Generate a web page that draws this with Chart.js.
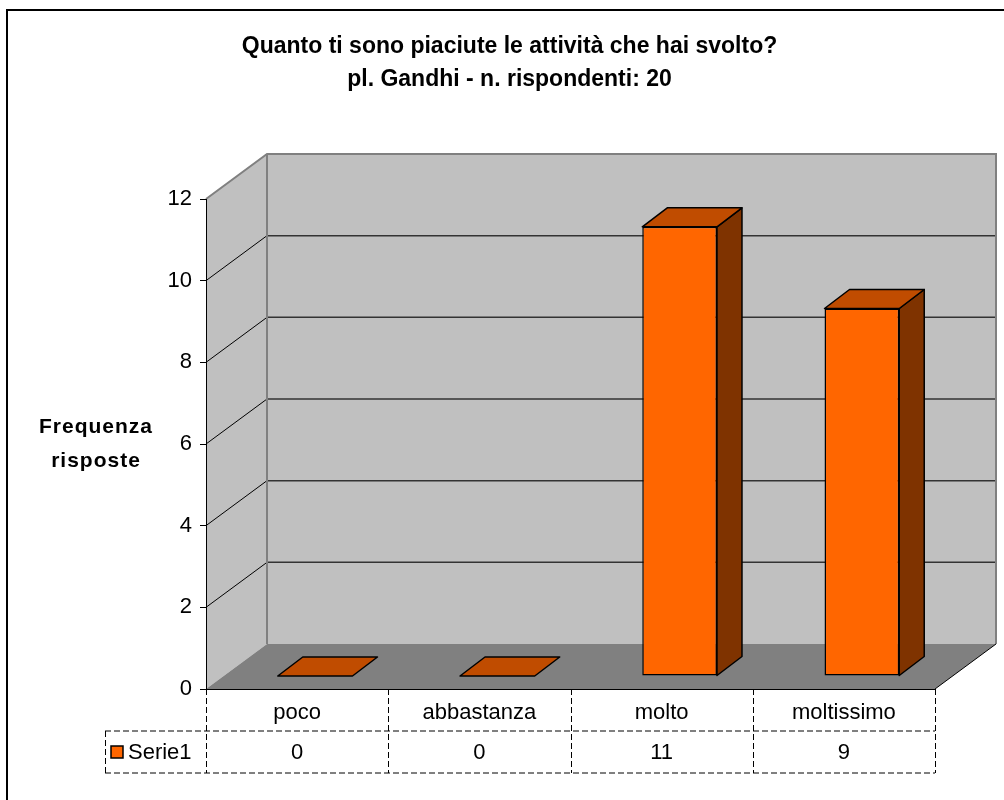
<!DOCTYPE html>
<html>
<head>
<meta charset="utf-8">
<script src="https://cdn.jsdelivr.net/npm/chart.js@4.4.1/dist/chart.umd.min.js"></script>
<style>
  html, body { margin: 0; padding: 0; background: #fff; }
  #wrap { width: 1004px; height: 800px; }
</style>
</head>
<body>
<div id="wrap"><canvas id="chart" width="1004" height="800"></canvas></div>
<script>
// dati del grafico
const titleLines = ["Quanto ti sono piaciute le attività che hai svolto?", "pl. Gandhi - n. rispondenti: 20"];
const yTitleLines = ["Frequenza", "risposte"];
const categories = ["poco", "abbastanza", "molto", "moltissimo"];
const serieName = "Serie1";
const serieValues = [0, 0, 11, 9];
const yMin = 0;
const yMax = 12;
const yStep = 2;

const FONT = "'Liberation Sans', Arial, sans-serif";
const WALL = { dx: 61, dy: -45 };      // profondita' pareti
const SHIFT = { dx: 18, dy: -13 };     // piano delle barre
const DEPTH = { dx: 25, dy: -19 };     // profondita' barre
const ROW_H = 42;
const KEY_W = 101;

Chart.defaults.font.family = FONT;
Chart.defaults.color = "#000";

const poly = (ctx, pts, fill, stroke, lw) => {
    ctx.beginPath();
    pts.forEach((p, i) => i ? ctx.lineTo(p[0], p[1]) : ctx.moveTo(p[0], p[1]));
    ctx.closePath();
    if (fill) { ctx.fillStyle = fill; ctx.fill(); }
    if (stroke) { ctx.strokeStyle = stroke; ctx.lineWidth = lw || 1; ctx.stroke(); }
};

const line = (ctx, x1, y1, x2, y2, color, lw) => {
    ctx.beginPath();
    ctx.moveTo(x1, y1);
    ctx.lineTo(x2, y2);
    ctx.strokeStyle = color;
    ctx.lineWidth = lw;
    ctx.stroke();
};

const depthPlugin = {
    id: "depth3d",
    beforeDraw(chart) {
        const { ctx, chartArea: a, scales: { y } } = chart;
        const top = y.getPixelForValue(yMax), bot = y.getPixelForValue(yMin);
        ctx.save();
        // cornice
        ctx.strokeStyle = "#000";
        ctx.lineWidth = 2;
        ctx.strokeRect(7, 10, 1200, 1000);
        // parete laterale
        poly(ctx, [[a.left, top], [a.left + WALL.dx, top + WALL.dy], [a.left + WALL.dx, bot + WALL.dy], [a.left, bot]], "#C0C0C0");
        // parete di fondo
        poly(ctx, [[a.left + WALL.dx, top + WALL.dy], [a.right + WALL.dx, top + WALL.dy], [a.right + WALL.dx, bot + WALL.dy], [a.left + WALL.dx, bot + WALL.dy]], "#C0C0C0");
        // pavimento
        poly(ctx, [[a.left, bot], [a.right, bot], [a.right + WALL.dx, bot + WALL.dy], [a.left + WALL.dx, bot + WALL.dy]], "#808080");
        // griglia
        for (let v = yMin + yStep; v < yMax; v += yStep) {
            const yy = y.getPixelForValue(v);
            line(ctx, a.left, yy, a.left + WALL.dx, yy + WALL.dy, "#000", 1);
            line(ctx, a.left + WALL.dx, yy + WALL.dy, a.right + WALL.dx, yy + WALL.dy, "#333", 1.5);
        }
        // bordi pareti
        ctx.lineJoin = "miter";
        ctx.beginPath();
        ctx.moveTo(a.left, top);
        ctx.lineTo(a.left + WALL.dx, top + WALL.dy);
        ctx.lineTo(a.right + WALL.dx, top + WALL.dy);
        ctx.lineTo(a.right + WALL.dx, bot + WALL.dy);
        ctx.moveTo(a.left + WALL.dx, top + WALL.dy);
        ctx.lineTo(a.left + WALL.dx, bot + WALL.dy);
        ctx.strokeStyle = "#808080";
        ctx.lineWidth = 2;
        ctx.stroke();
        line(ctx, a.right, bot, a.right + WALL.dx, bot + WALL.dy, "#000", 1);
        ctx.restore();
    },
    beforeDatasetsDraw(chart) {
        chart.ctx.save();
        chart.ctx.translate(SHIFT.dx, SHIFT.dy);
    },
    afterDatasetsDraw(chart) {
        const ctx = chart.ctx;
        ctx.restore();
        ctx.save();
        ctx.lineJoin = "round";
        chart.getDatasetMeta(0).data.forEach(bar => {
            const { x, y, base, width } = bar.getProps(["x", "y", "base", "width"], true);
            const l = x - width / 2 + SHIFT.dx, r = x + width / 2 + SHIFT.dx;
            const t = y + SHIFT.dy, b = base + SHIFT.dy;
            if (b - t > 0.5) {
                poly(ctx, [[r, t], [r + DEPTH.dx, t + DEPTH.dy], [r + DEPTH.dx, b + DEPTH.dy], [r, b]], "#7F3300", "#000", 1.5);
            }
            poly(ctx, [[l, t], [l + DEPTH.dx, t + DEPTH.dy], [r + DEPTH.dx, t + DEPTH.dy], [r, t]], "#C04C00", "#000", 1.5);
        });
        ctx.restore();
    },
    afterDraw(chart) {
        const { ctx, chartArea: a, scales: { x } } = chart;
        const r1 = a.bottom + ROW_H, r2 = a.bottom + 2 * ROW_H;
        ctx.save();
        // tabella dati
        ctx.setLineDash([6, 3]);
        for (let i = 0; i <= categories.length; i++) {
            const xb = Math.round(x.getPixelForValue(i - 0.5)) + 0.5;
            line(ctx, xb, a.bottom, xb, r2, "#000", 1);
        }
        line(ctx, a.left - KEY_W, r1, a.right, r1, "#000", 1);
        line(ctx, a.left - KEY_W, r2, a.right, r2, "#000", 1);
        line(ctx, a.left - KEY_W + 0.5, r1, a.left - KEY_W + 0.5, r2, "#000", 1);
        ctx.setLineDash([]);
        // legenda
        const my = (r1 + r2) / 2;
        ctx.fillStyle = "#FF6600";
        ctx.fillRect(a.left - KEY_W + 6, my - 6, 12, 12);
        ctx.strokeStyle = "#000";
        ctx.lineWidth = 1.5;
        ctx.strokeRect(a.left - KEY_W + 6, my - 6, 12, 12);
        ctx.fillStyle = "#000";
        ctx.font = "22px " + FONT;
        ctx.textBaseline = "middle";
        ctx.textAlign = "left";
        ctx.fillText(serieName, a.left - KEY_W + 23, my + 1);
        ctx.textAlign = "center";
        serieValues.forEach((v, i) => ctx.fillText(String(v), x.getPixelForValue(i), my + 1));
        // titolo asse y
        ctx.font = "bold 21px " + FONT;
        ctx.letterSpacing = "1px";
        yTitleLines.forEach((t, i) => ctx.fillText(t, 96, 427 + i * 34));
        ctx.restore();
    }
};

const ctx = document.getElementById("chart").getContext("2d");
new Chart(ctx, {
    type: "bar",
    data: {
        labels: categories,
        datasets: [{
            label: serieName,
            data: serieValues,
            backgroundColor: "#FF6600",
            borderColor: "#000",
            borderWidth: 1.5,
            borderSkipped: false,
            categoryPercentage: 1,
            barPercentage: 0.41,
            clip: false
        }]
    },
    options: {
        responsive: false,
        animation: false,
        layout: { padding: { left: 84, right: 69, top: 0, bottom: 0 } },
        plugins: {
            legend: { display: false },
            tooltip: { enabled: false },
            title: {
                display: true,
                text: titleLines,
                color: "#000",
                font: { size: 23, weight: "bold", lineHeight: 33 / 23 },
                padding: { top: 30, bottom: 103 }
            }
        },
        scales: {
            x: {
                grid: { display: false },
                border: { display: true, color: "#000", width: 1 },
                ticks: { color: "#000", font: { size: 22 }, padding: 3, maxRotation: 0 },
                afterFit: s => { s.height = 111; }
            },
            y: {
                min: yMin,
                max: yMax,
                ticks: { stepSize: yStep, color: "#000", font: { size: 22 }, padding: 8 },
                grid: { drawOnChartArea: false, tickLength: 6, color: "#000" },
                border: { display: true, color: "#000", width: 1 },
                afterFit: s => { s.width = 122; }
            }
        }
    },
    plugins: [depthPlugin]
});
</script>
</body>
</html>
